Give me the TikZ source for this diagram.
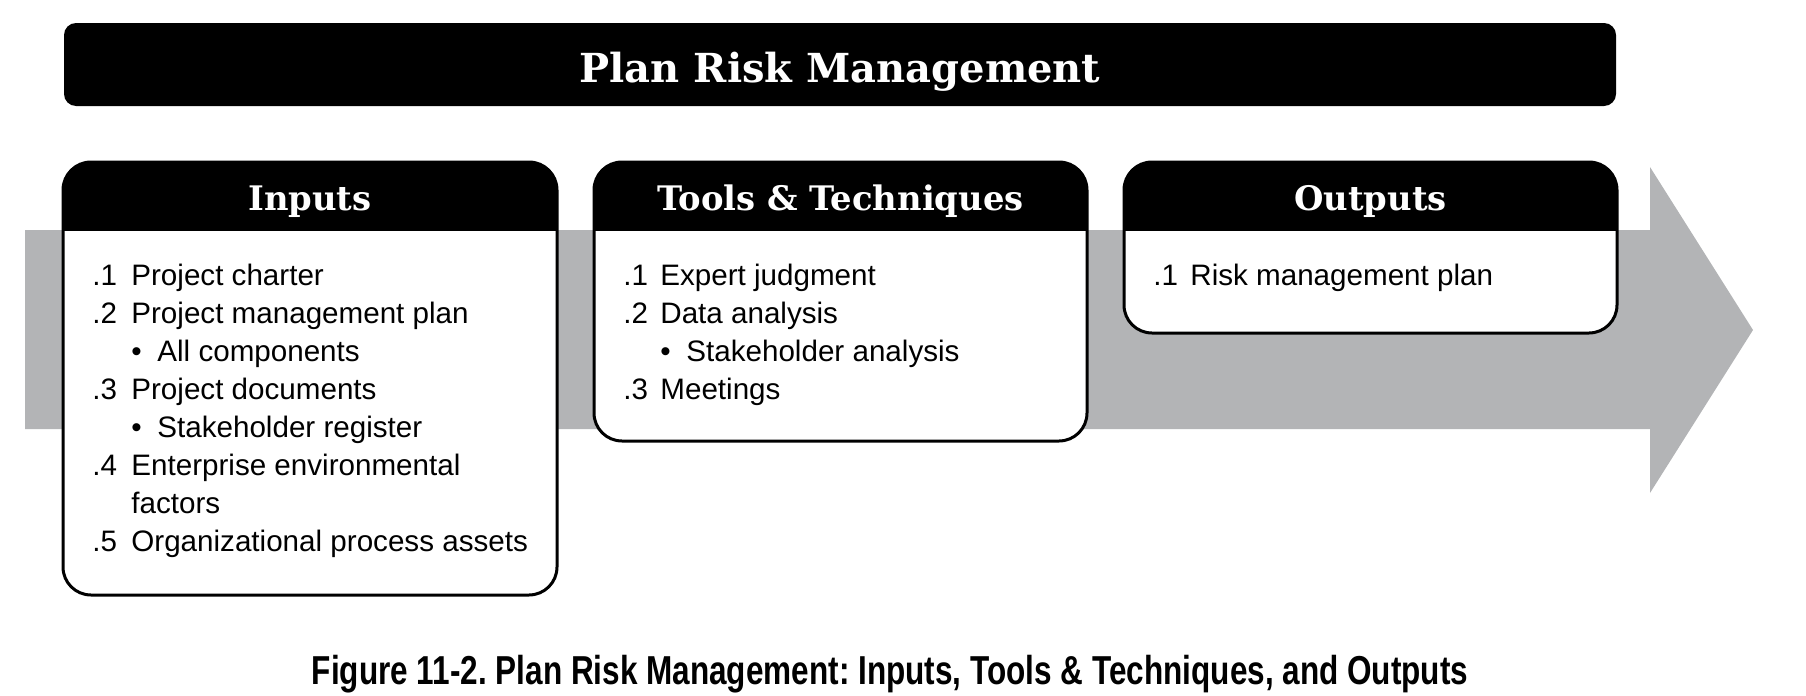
\documentclass[tikz,border=0pt]{standalone}
\usepackage{fontspec}
\setmainfont{Liberation Sans}
\newfontfamily\slabfont{DejaVu Serif}
\newfontfamily\capfont{Liberation Sans}[FakeStretch=0.78]
\definecolor{arrowgray}{RGB}{179,180,182}
\frenchspacing
\tikzset{
  boxframe/.style={line width=1.5pt, rounded corners=14pt},
  boxhead/.style={anchor=base, text=white, inner sep=0pt,
    font=\slabfont\bfseries\fontsize{16.9}{19}\selectfont},
  itemlist/.style={anchor=base west, inner sep=0pt,
    font=\fontsize{14.8}{19}\selectfont},
}
\newcommand{\bul}{\makebox[13pt][l]{\textbullet}}
\begin{document}
\begin{tikzpicture}[x=0.5pt, y=-0.5pt]
    \useasboundingbox (0,0) rectangle (1806,696);
    % grey process arrow behind the boxes
    \fill[arrowgray] (25,230) -- (1650,230) -- (1650,167) -- (1753,330)
      -- (1650,493) -- (1650,429) -- (25,429) -- cycle;
    % title bar
    \fill[rounded corners=6pt] (64,23) rectangle (1616,106);
    \node[anchor=base, text=white, inner sep=0pt,
      font=\slabfont\bfseries\fontsize{20}{24}\selectfont] (title) at (840,82) {Plan Risk Management};
    % the three boxes
    \foreach \bx/\ex/\by/\ttl/\nm in {63/557/595/Inputs/inputs,
        594/1087/441/Tools \& Techniques/tools, 1124/1617/333/Outputs/outputs} {
      \begin{scope}
        \clip[rounded corners=14pt] (\bx,162) rectangle (\ex,\by);
        \fill[white] (\bx,162) rectangle (\ex,\by);
        \fill (\bx,162) rectangle (\ex,231);
      \end{scope}
      \draw[boxframe] (\bx,162) rectangle (\ex,\by);
      \node[boxhead] (\nm) at ({(\bx+\ex)/2},210) {\ttl};
    }
    \node[itemlist] (inlist) at (92,285) {\begin{tabular}[t]{@{}p{19.5pt}@{}l@{}}
      .1 & Project charter\\
      .2 & Project management plan\\
         & \bul All components\\
      .3 & Project documents\\
         & \bul Stakeholder register\\
      .4 & Enterprise environmental\\
         & factors\\
      .5 & Organizational process assets
    \end{tabular}};
    \node[itemlist] (toollist) at (623,285) {\begin{tabular}[t]{@{}p{18.5pt}@{}l@{}}
      .1 & Expert judgment\\
      .2 & Data analysis\\
         & \bul Stakeholder analysis\\
      .3 & Meetings
    \end{tabular}};
    \node[itemlist] (outlist) at (1153,285) {\begin{tabular}[t]{@{}p{18.5pt}@{}l@{}}
      .1 & Risk management plan
    \end{tabular}};
    % caption
    \node[anchor=base, inner sep=0pt, font=\capfont\bfseries\fontsize{20.2}{23}\selectfont]
      (caption) at (890,684) {Figure 11-2. Plan Risk Management: Inputs, Tools \& Techniques, and Outputs};
\end{tikzpicture}
\end{document}
